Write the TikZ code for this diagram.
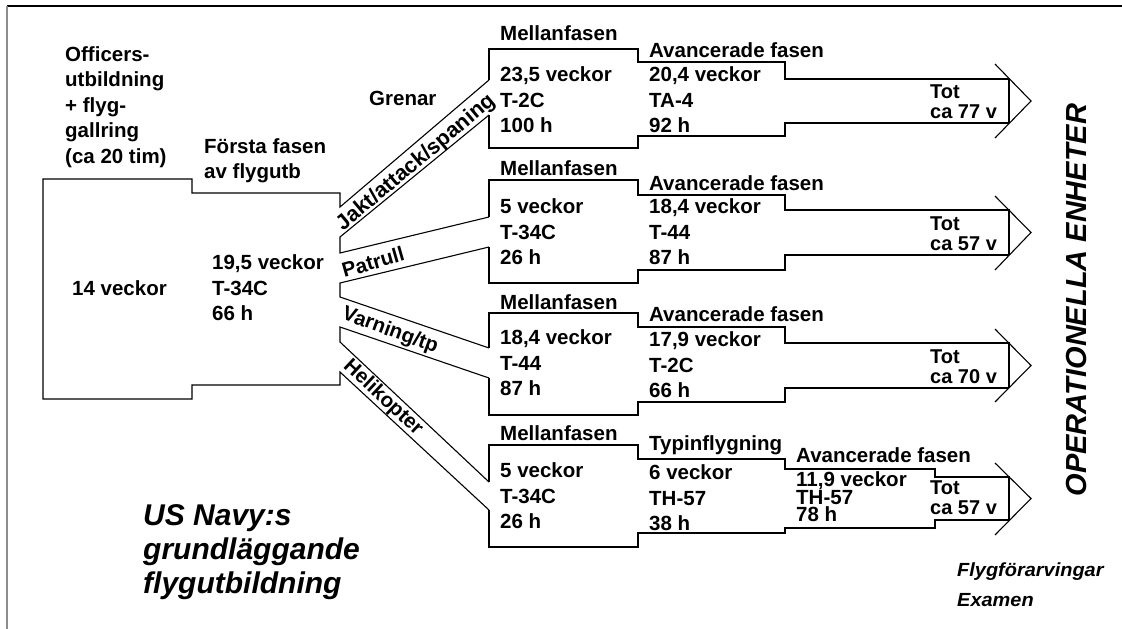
\documentclass[tikz,border=0pt]{standalone}
\usepackage{fontspec}
\setmainfont{Liberation Sans}
\newfontfamily\flygfont{Liberation Sans}[FakeStretch=1.05]
\begin{document}
\begin{tikzpicture}[x=1pt,y=-1pt,
  outline/.style={line width=1.1pt, line join=miter},
  lbl/.style={font=\bfseries\fontsize{20.5}{25.5}\selectfont, inner sep=0pt, anchor=west, align=left},
  totlbl/.style={font=\bfseries\fontsize{20}{20}\selectfont, inner sep=0pt, anchor=west, align=left},
  branch/.style={font=\bfseries\fontsize{20.5}{24}\selectfont, inner sep=0pt, anchor=center}]
\useasboundingbox (0,0) rectangle (1122,629);
% frame
\draw[line width=1.2pt] (7,6) -- (1122,6);
\draw[line width=1.2pt, black!45] (7,6) -- (7,629);
% first phase shape and branch bands
\draw[outline] (489,80) -- (340,207) -- (340,193) -- (192,193) -- (192,179) -- (43,179)
  -- (43,399) -- (192,399) -- (192,385) -- (340,385) -- (340,372) -- (489,510);
\draw[outline] (489,115) -- (340,237) -- (340,253) -- (489,217);
\draw[outline] (489,247) -- (340,283) -- (340,297) -- (489,348);
\draw[outline] (489,378) -- (340,327) -- (340,342) -- (489,482);
% branch 1
\draw[outline] (489,80) -- (489,49) -- (638,49) -- (638,62) -- (785,62) -- (785,79) -- (1009,79) -- (1009,123);
\draw[outline] (489,115) -- (489,148) -- (638,148) -- (638,136) -- (785,136) -- (785,123) -- (1009,123);
\draw[outline] (995,64) -- (1031,101) -- (995,138);
% branch 2
\draw[outline] (489,217) -- (489,180) -- (638,180) -- (638,195) -- (785,195) -- (785,210) -- (1009,210) -- (1009,255);
\draw[outline] (489,247) -- (489,283) -- (638,283) -- (638,270) -- (785,270) -- (785,255) -- (1009,255);
\draw[outline] (995,196) -- (1031,232.5) -- (995,270);
% branch 3
\draw[outline] (489,348) -- (489,313) -- (638,313) -- (638,327) -- (785,327) -- (785,343) -- (1009,343) -- (1009,388);
\draw[outline] (489,378) -- (489,415) -- (638,415) -- (638,402) -- (785,402) -- (785,388) -- (1009,388);
\draw[outline] (995,329) -- (1031,365.5) -- (995,402);
% branch 4
\draw[outline] (489,482) -- (489,445) -- (638,445) -- (638,459) -- (785,459) -- (785,469) -- (935,469) -- (935,477) -- (1009,477) -- (1009,520);
\draw[outline] (489,510) -- (489,547) -- (638,547) -- (638,533) -- (785,533) -- (785,528) -- (935,528) -- (935,520) -- (1009,520);
\draw[outline] (995,463) -- (1031,498.5) -- (995,535);
% left texts
\node[lbl] (officers) at (65,107) {Officers-\\utbildning\\+ flyg-\\gallring\\(ca 20 tim)};
\node[lbl] (forsta) at (204,160.5) {Första fasen\\av flygutb};
\node[lbl] (grenar) at (369,98) {Grenar};
\node[lbl] (v14) at (72,288) {14 veckor};
\node[lbl] (fp) at (212,288) {19,5 veckor\\T-34C\\66 h};
% branch labels
\node[branch, font=\bfseries\fontsize{21.5}{24}\selectfont, rotate=40] (jakt) at (416,163) {Jakt/attack/spaning};
\node[branch, rotate=16] (patrull) at (373,262) {Patrull};
\node[branch, rotate=-20] (varning) at (390,331) {Varning/tp};
\node[branch, rotate=-43] (heli) at (383,398) {Helikopter};
% branch 1 texts
\node[lbl] (m1) at (500,33) {Mellanfasen};
\node[lbl] (b1) at (500,100) {23,5 veckor\\T-2C\\100 h};
\node[lbl] (a1) at (649,50) {Avancerade fasen};
\node[lbl] (c1) at (649,100) {20,4 veckor\\TA-4\\92 h};
\node[totlbl] (t1) at (930,101.5) {Tot\\ca 77 v};
% branch 2 texts
\node[lbl] (m2) at (500,168) {Mellanfasen};
\node[lbl] (b2) at (500,232) {5 veckor\\T-34C\\26 h};
\node[lbl] (a2) at (649,183) {Avancerade fasen};
\node[lbl] (c2) at (649,232) {18,4 veckor\\T-44\\87 h};
\node[totlbl] (t2) at (930,233.5) {Tot\\ca 57 v};
% branch 3 texts
\node[lbl] (m3) at (500,302) {Mellanfasen};
\node[lbl] (b3) at (500,363) {18,4 veckor\\T-44\\87 h};
\node[lbl] (a3) at (649,314) {Avancerade fasen};
\node[lbl] (c3) at (649,365) {17,9 veckor\\T-2C\\66 h};
\node[totlbl] (t3) at (930,367) {Tot\\ca 70 v};
% branch 4 texts
\node[lbl] (m4) at (500,433) {Mellanfasen};
\node[lbl] (b4) at (500,496) {5 veckor\\T-34C\\26 h};
\node[lbl] (typ) at (649,445) {Typinflygning};
\node[lbl] (c4) at (649,498) {6 veckor\\TH-57\\38 h};
\node[lbl] (a4) at (796,455) {Avancerade fasen};
\node[lbl, font=\bfseries\fontsize{20.5}{17}\selectfont] (d4) at (796,497) {11,9 veckor\\TH-57\\78 h};
\node[totlbl] (t4) at (930,497.5) {Tot\\ca 57 v};
% titles
\node[font=\bfseries\itshape\fontsize{30}{34}\selectfont, inner sep=0pt, anchor=west, align=left] (navy) at (143,552) {US Navy:s\\grundläggande\\flygutbildning};
\node[font=\bfseries\itshape\fontsize{29}{34}\selectfont, inner sep=0pt, rotate=90] (oper) at (1077,300) {OPERATIONELLA ENHETER};
\node[font=\flygfont\bfseries\itshape\fontsize{19}{30}\selectfont, inner sep=0pt, anchor=west, align=left] (flyg) at (957,585) {Flygförarvingar\\Examen};
\end{tikzpicture}
\end{document}
